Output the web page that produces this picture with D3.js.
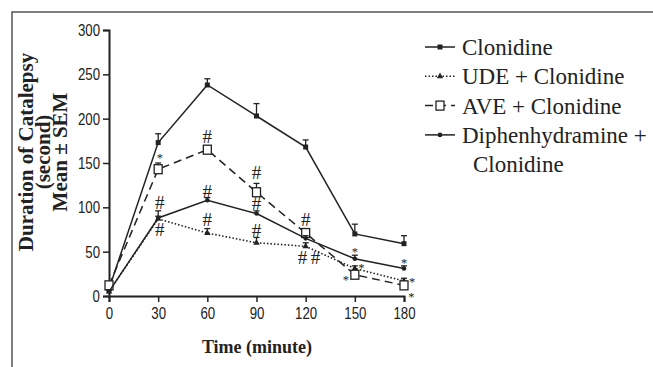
<!DOCTYPE html>
<html>
<head>
<meta charset="utf-8">
<script src="https://cdn.jsdelivr.net/npm/d3@7"></script>
<style>
  body { margin: 0; background: #fff; }
  svg { display: block; }
</style>
</head>
<body>
<svg id="chart"></svg>
<script>
// time points (minute)
const times = [0, 30, 60, 90, 120, 150, 180]
const yTicks = [0, 50, 100, 150, 200, 250, 300]

// mean values
const clonidine = [8, 173, 238, 203, 168, 70, 59]
const ude = [5, 87, 71, 60, 56, 31, 17]
const ave = [12, 143, 165, 117, 71, 24, 12]
const diph = [5, 88, 108, 93, 65, 42, 31]

// SEM (only upper caps drawn)
const clonidineSem = [3, 10, 7, 14, 8, 11, 9]
const udeSem = [2, 3, 5, 6, 4, 3, 3]
const aveSem = [3, 7, 4, 10, 5, 3, 3]
const diphSem = [2, 8, 3, 3, 3, 4, 3]

const seriesNames = ['Clonidine', 'UDE + Clonidine', 'AVE + Clonidine', 'Diphenhydramine +']

// significance marks: [time, value, symbol]
const marks = [
  [31, 159, '*'], [31, 106, '#'], [31, 75, '#'],
  [60, 180, '#'], [60, 118, '#'], [60, 87, '#'],
  [90, 139, '#'], [90, 105, '#'], [90, 74, '#'],
  [120, 87, '#'], [118, 44, '#'], [126, 44, '#'],
  [150, 53, '*'], [154, 35, '*'], [144.5, 21, '*'],
  [180, 41, '*'], [185, 18.5, '*'], [184.5, 2.5, '*']
]

const width = 653
const height = 367
const serif = "'Liberation Serif', 'Times New Roman', serif"
const sans = "'Liberation Sans', Arial, sans-serif"
const svg = d3.select('#chart').attr('width', width).attr('height', height)

// frame (cropped box)
svg.append('path')
  .attr('d', 'M12,' + height + 'V12H' + width)
  .attr('fill', 'none')
  .attr('stroke', '#555')
  .attr('stroke-width', 1.5)

const x = d3.scaleLinear().domain([0, 180]).range([109, 404])
const y = d3.scaleLinear().domain([0, 300]).range([296, 30])

// axes
const xAxis = d3.axisBottom(x).tickValues(times).tickSize(6).tickPadding(5)
const yAxis = d3.axisLeft(y).tickValues(yTicks).tickSize(6).tickPadding(3)

const sx = 0.78
svg.append('g')
  .attr('transform', 'translate(0,296)')
  .call(xAxis)
  .call(g => g.select('.domain').attr('stroke', '#222').attr('stroke-width', 2))
  .call(g => g.selectAll('.tick line').attr('stroke', '#222').attr('stroke-width', 1.5))
  .call(g => g.selectAll('.tick text')
    .attr('fill', '#222')
    .style('font-family', sans)
    .style('font-size', '17px')
    .attr('transform', 'scale(' + sx + ',1)'))

svg.append('g')
  .attr('transform', 'translate(109,0)')
  .call(yAxis)
  .call(g => g.select('.domain').attr('stroke', '#222').attr('stroke-width', 2))
  .call(g => g.selectAll('.tick line').attr('stroke', '#222').attr('stroke-width', 1.5))
  .call(g => g.selectAll('.tick text')
    .attr('fill', '#222')
    .attr('x', -9 / sx)
    .style('font-family', sans)
    .style('font-size', '17px')
    .attr('transform', 'scale(' + sx + ',1)'))

// axis titles
const yLabel = svg.append('text')
  .attr('transform', 'translate(45,152) rotate(-90)')
  .attr('text-anchor', 'middle')
  .style('font-family', serif)
  .style('font-weight', 'bold')
  .style('font-size', '21px')
  .attr('fill', '#222')
yLabel.append('tspan').attr('x', 0).attr('y', -12).text('Duration of Catalepsy')
yLabel.append('tspan').attr('x', 0).attr('y', 5).text('(second)')
yLabel.append('tspan').attr('x', 0).attr('y', 22).text('Mean ± SEM')

svg.append('text')
  .attr('x', 257)
  .attr('y', 353)
  .attr('text-anchor', 'middle')
  .style('font-family', serif)
  .style('font-weight', 'bold')
  .style('font-size', '18px')
  .attr('fill', '#222')
  .text('Time (minute)')

// series config
const series = [
  { name: seriesNames[0], values: clonidine, sem: clonidineSem, dash: null, marker: 'square' },
  { name: seriesNames[1], values: ude, sem: udeSem, dash: '1.5,2', marker: 'triangle' },
  { name: seriesNames[2], values: ave, sem: aveSem, dash: '8,5', marker: 'open' },
  { name: seriesNames[3], values: diph, sem: diphSem, dash: null, marker: 'circle' }
]

const line = d3.line()
  .x(d => x(d.t))
  .y(d => y(d.v))

function drawMarker(g, type, cx, cy) {
  if (type === 'square') {
    g.append('rect').attr('x', cx - 2.5).attr('y', cy - 2.5).attr('width', 5).attr('height', 5).attr('fill', '#222')
  } else if (type === 'triangle') {
    g.append('path').attr('d', d3.symbol(d3.symbolTriangle, 18)()).attr('transform', 'translate(' + cx + ',' + cy + ')').attr('fill', '#222')
  } else if (type === 'open') {
    g.append('rect').attr('x', cx - 4).attr('y', cy - 4.5).attr('width', 8).attr('height', 9).attr('fill', '#fff').attr('stroke', '#222').attr('stroke-width', 1.3)
  } else {
    g.append('circle').attr('cx', cx).attr('cy', cy).attr('r', 2.3).attr('fill', '#222')
  }
}

series.forEach(s => {
  const pts = times.map((t, i) => ({ t: t, v: s.values[i], e: s.sem[i] }))
  const g = svg.append('g')
  g.append('path')
    .attr('d', line(pts))
    .attr('fill', 'none')
    .attr('stroke', '#222')
    .attr('stroke-width', s.dash === '1.5,2' ? 1.6 : 1.5)
    .attr('stroke-dasharray', s.dash)
  // error bars
  pts.forEach(p => {
    g.append('line')
      .attr('x1', x(p.t)).attr('x2', x(p.t))
      .attr('y1', y(p.v)).attr('y2', y(p.v + p.e))
      .attr('stroke', '#222').attr('stroke-width', 1.3)
    g.append('line')
      .attr('x1', x(p.t) - 3).attr('x2', x(p.t) + 3)
      .attr('y1', y(p.v + p.e)).attr('y2', y(p.v + p.e))
      .attr('stroke', '#222').attr('stroke-width', 1.3)
  })
  pts.forEach(p => drawMarker(g, s.marker, x(p.t), y(p.v)))
})

// significance marks
svg.append('g').selectAll('text')
  .data(marks)
  .join('text')
  .attr('x', d => x(d[0]))
  .attr('y', d => y(d[1]))
  .attr('dy', d => d[2] === '#' ? '0.35em' : '0.55em')
  .attr('text-anchor', 'middle')
  .style('font-family', serif)
  .style('font-size', d => d[2] === '#' ? '19px' : '12.5px')
  .attr('fill', '#222')
  .text(d => d[2])

// legend
const legend = svg.append('g').attr('transform', 'translate(425,0)')
series.forEach((s, i) => {
  const cy = 47 + i * 29.3
  legend.append('line')
    .attr('x1', 0).attr('x2', 30)
    .attr('y1', cy).attr('y2', cy)
    .attr('stroke', '#222')
    .attr('stroke-width', 1.5)
    .attr('stroke-dasharray', s.dash)
  drawMarker(legend, s.marker, 15, cy)
  legend.append('text')
    .attr('x', 37)
    .attr('y', cy + 8)
    .style('font-family', serif)
    .style('font-size', '23px')
    .attr('fill', '#222')
    .text(s.name)
})
legend.append('text')
  .attr('x', 48)
  .attr('y', 47 + 4 * 29.3 + 8)
  .style('font-family', serif)
  .style('font-size', '23px')
  .attr('fill', '#222')
  .text('Clonidine')
</script>
</body>
</html>
